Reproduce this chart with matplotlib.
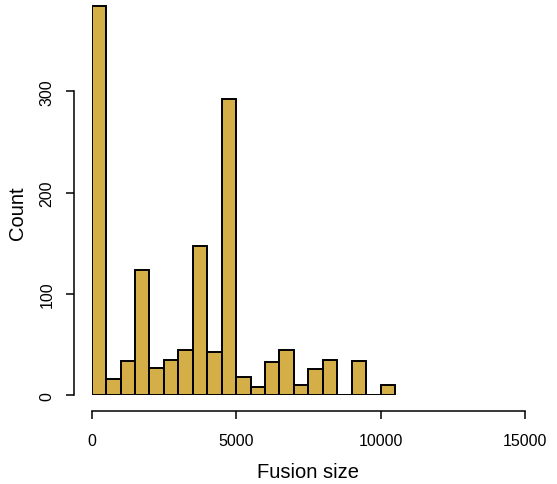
import matplotlib
matplotlib.use("agg")
import matplotlib.pyplot as plt
import numpy as np

# histogram of fusion sizes, bin width 500
bin_width = 500
bin_starts = np.arange(0, 10500, bin_width)
counts = [384, 16, 34, 124, 27, 35, 45, 147, 43, 292,
          18, 8, 33, 45, 10, 26, 35, 0, 34, 0, 10]

x_ticks = [0, 5000, 10000, 15000]
y_ticks = [0, 100, 200, 300]
bar_color = "#D4AF47"

plt.rcParams["font.family"] = ["Liberation Sans", "DejaVu Sans"]

fig = plt.figure(figsize=(5.57, 4.85), dpi=100)
ax = fig.add_axes([91.7 / 557, (485 - 396.3) / 485, 433.3 / 557, 395.2 / 485])

ax.bar(bin_starts, counts, width=bin_width, align="edge",
       color=bar_color, edgecolor="black", linewidth=1.4)

ax.set_xlim(0, 15000)
ax.set_ylim(0, 390)

# R-style detached axes
for side in ["top", "right"]:
    ax.spines[side].set_visible(False)
ax.spines["left"].set_position(("outward", 12.7))
ax.spines["bottom"].set_position(("outward", 11.5))
ax.spines["left"].set_bounds(0, 300)
ax.spines["bottom"].set_bounds(0, 15000)
for side in ["left", "bottom"]:
    ax.spines[side].set_linewidth(1.1)

ax.set_xticks(x_ticks)
ax.set_yticks(y_ticks)
ax.tick_params(axis="both", direction="out", length=6, width=1.1, labelsize=11.5)
ax.tick_params(axis="x", pad=10)
ax.tick_params(axis="y", pad=8)
for lbl in ax.get_yticklabels():
    lbl.set_rotation(90)
    lbl.set_va("center")

fig.text(308 / 557, 1 - 473 / 485, "Fusion size", ha="center", va="center", fontsize=14.5)
fig.text(18 / 557, 1 - 213 / 485, "Count", ha="center", va="center",
         rotation=90, fontsize=14.5)

fig.savefig("out.png", dpi=100)
